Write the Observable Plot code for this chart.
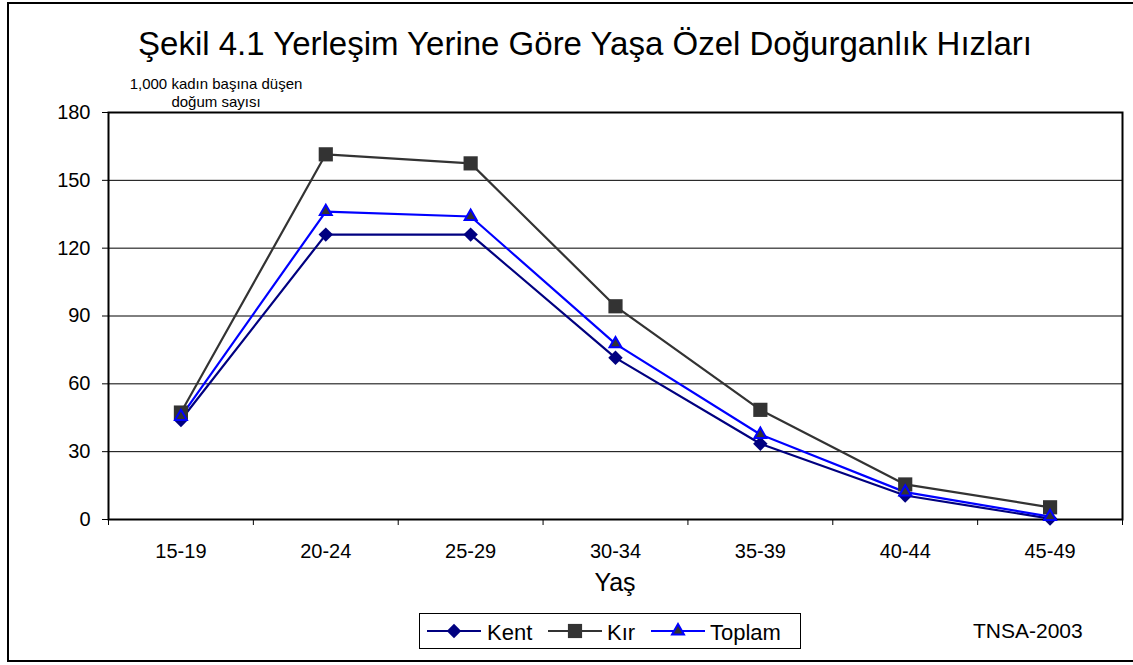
<!DOCTYPE html>
<html>
<head>
<meta charset="utf-8">
<script src="https://cdn.jsdelivr.net/npm/d3@7"></script>
<script src="https://cdn.jsdelivr.net/npm/@observablehq/plot@0.6"></script>
<style>
  html, body { margin: 0; padding: 0; background: #fff; }
  body { font-family: "Liberation Sans", Arial, sans-serif; color: #000; }
  #wrap { position: relative; width: 1133px; height: 665px; overflow: hidden; }
  #chart { position: absolute; left: 0; top: 0; }
  .abs { position: absolute; white-space: nowrap; line-height: 1; }
  #border { position: absolute; left: 7px; top: 2px; width: 1160px; height: 660px; border: 2px solid #000; box-sizing: border-box; }
  #title { left: 0; width: 1170px; top: 27px; text-align: center; font-size: 33px; }
  #ylab { left: 116px; width: 200px; top: 75px; text-align: center; font-size: 15px; line-height: 18px; }
  #xlab { left: 565px; width: 100px; top: 570px; text-align: center; font-size: 25px; }
  #legend { left: 419px; top: 613px; width: 382px; height: 36px; border: 1px solid #000; box-sizing: border-box; }
  #legend svg { position: absolute; top: 7px; }
  #legend span { position: absolute; top: 8px; font-size: 22px; line-height: 1; }
  #source { left: 973px; top: 620px; font-size: 21px; }
</style>
</head>
<body>
<div id="wrap">
  <div id="chart"></div>
  <div id="border"></div>
  <div id="title" class="abs">Şekil 4.1 Yerleşim Yerine Göre Yaşa Özel Doğurganlık Hızları</div>
  <div id="ylab" class="abs">1,000 kadın başına düşen<br>doğum sayısı</div>
  <div id="xlab" class="abs">Yaş</div>
  <div id="legend" class="abs"></div>
  <div id="source" class="abs">TNSA-2003</div>
</div>
<script>
// ---- data ----
const ages = ["15-19", "20-24", "25-29", "30-34", "35-39", "40-44", "45-49"];
const kent = [44, 126, 126, 71.5, 33.5, 10.6, 0.4];
const kir = [47.3, 161.5, 157.5, 94.3, 48.5, 15.5, 5.4];
const toplam = [45.5, 136.2, 134, 77.7, 37.6, 12.1, 1.3];
const yTicks = [0, 30, 60, 90, 120, 150, 180];

const seriesDefs = [
  {name: "Kent", values: kent, stroke: "#000080", fill: "#000080", symbol: "diamond2", r: 6.5, sw: 0, lx: 7, tx: 67},
  {name: "Kır", values: kir, stroke: "#333333", fill: "#333333", symbol: "square", r: 8, sw: 0, lx: 128, tx: 187},
  {name: "Toplam", values: toplam, stroke: "#0000FF", fill: "#333333", symbol: "triangle2", r: 5.7, sw: 2, lx: 231, tx: 290}
];

const rows = seriesDefs.flatMap(s => ages.map((a, i) => ({series: s.name, age: a, idx: i + 0.5, value: s.values[i]})));

const marks = [
  Plot.ruleY(yTicks.filter(t => t > 0 && t < 180), {stroke: "#000", strokeWidth: 1}),
  Plot.frame({stroke: "#000", strokeWidth: 2}),
  Plot.axisY({ticks: yTicks, tickSize: 6, tickPadding: 12, fontSize: 20, label: null, tickFormat: d => String(d)}),
  Plot.axisX({ticks: d3.range(ages.length + 1), tickSize: 6, tickFormat: () => "", label: null}),
  Plot.axisX({ticks: ages.map((_, i) => i + 0.5), tickSize: 0, tickPadding: 24, fontSize: 20, label: null,
              tickFormat: v => ages[Math.floor(v)]})
];
for (const s of seriesDefs) {
  const data = rows.filter(r => r.series === s.name);
  marks.push(Plot.line(data, {x: "idx", y: "value", stroke: s.stroke, strokeWidth: 2.2}));
}
for (const s of seriesDefs) {
  const data = rows.filter(r => r.series === s.name);
  marks.push(Plot.dot(data, {x: "idx", y: "value", symbol: () => s.symbol, r: s.r, fill: s.fill,
    stroke: s.sw ? s.stroke : "none", strokeWidth: s.sw}));
}

const chart = Plot.plot({
  width: 1133,
  height: 665,
  marginLeft: 108,
  marginRight: 11,
  marginTop: 112,
  marginBottom: 146,
  style: {fontFamily: "'Liberation Sans', Arial, sans-serif", fontSize: "20px", color: "#000", background: "transparent"},
  x: {type: "linear", domain: [0, ages.length]},
  y: {domain: [0, 180]},
  symbol: {type: "identity"},
  marks
});
document.getElementById("chart").appendChild(chart);

// ---- legend ----
const legend = document.getElementById("legend");
for (const s of seriesDefs) {
  const symType = s.symbol === "diamond2" ? d3.symbolDiamond2 : s.symbol === "square" ? d3.symbolSquare : d3.symbolTriangle2;
  const sym = d3.symbol(symType, Math.PI * s.r * s.r)();
  const svg = `<svg width="54" height="20" style="left:${s.lx}px"><line x1="0" x2="54" y1="10" y2="10" stroke="${s.stroke}" stroke-width="2.2"/>` +
    `<path d="${sym}" transform="translate(27,10)" fill="${s.fill}" stroke="${s.sw ? s.stroke : "none"}" stroke-width="${s.sw}"/></svg>`;
  legend.insertAdjacentHTML("beforeend", svg + `<span style="left:${s.tx}px">${s.name}</span>`);
}
</script>
</body>
</html>
